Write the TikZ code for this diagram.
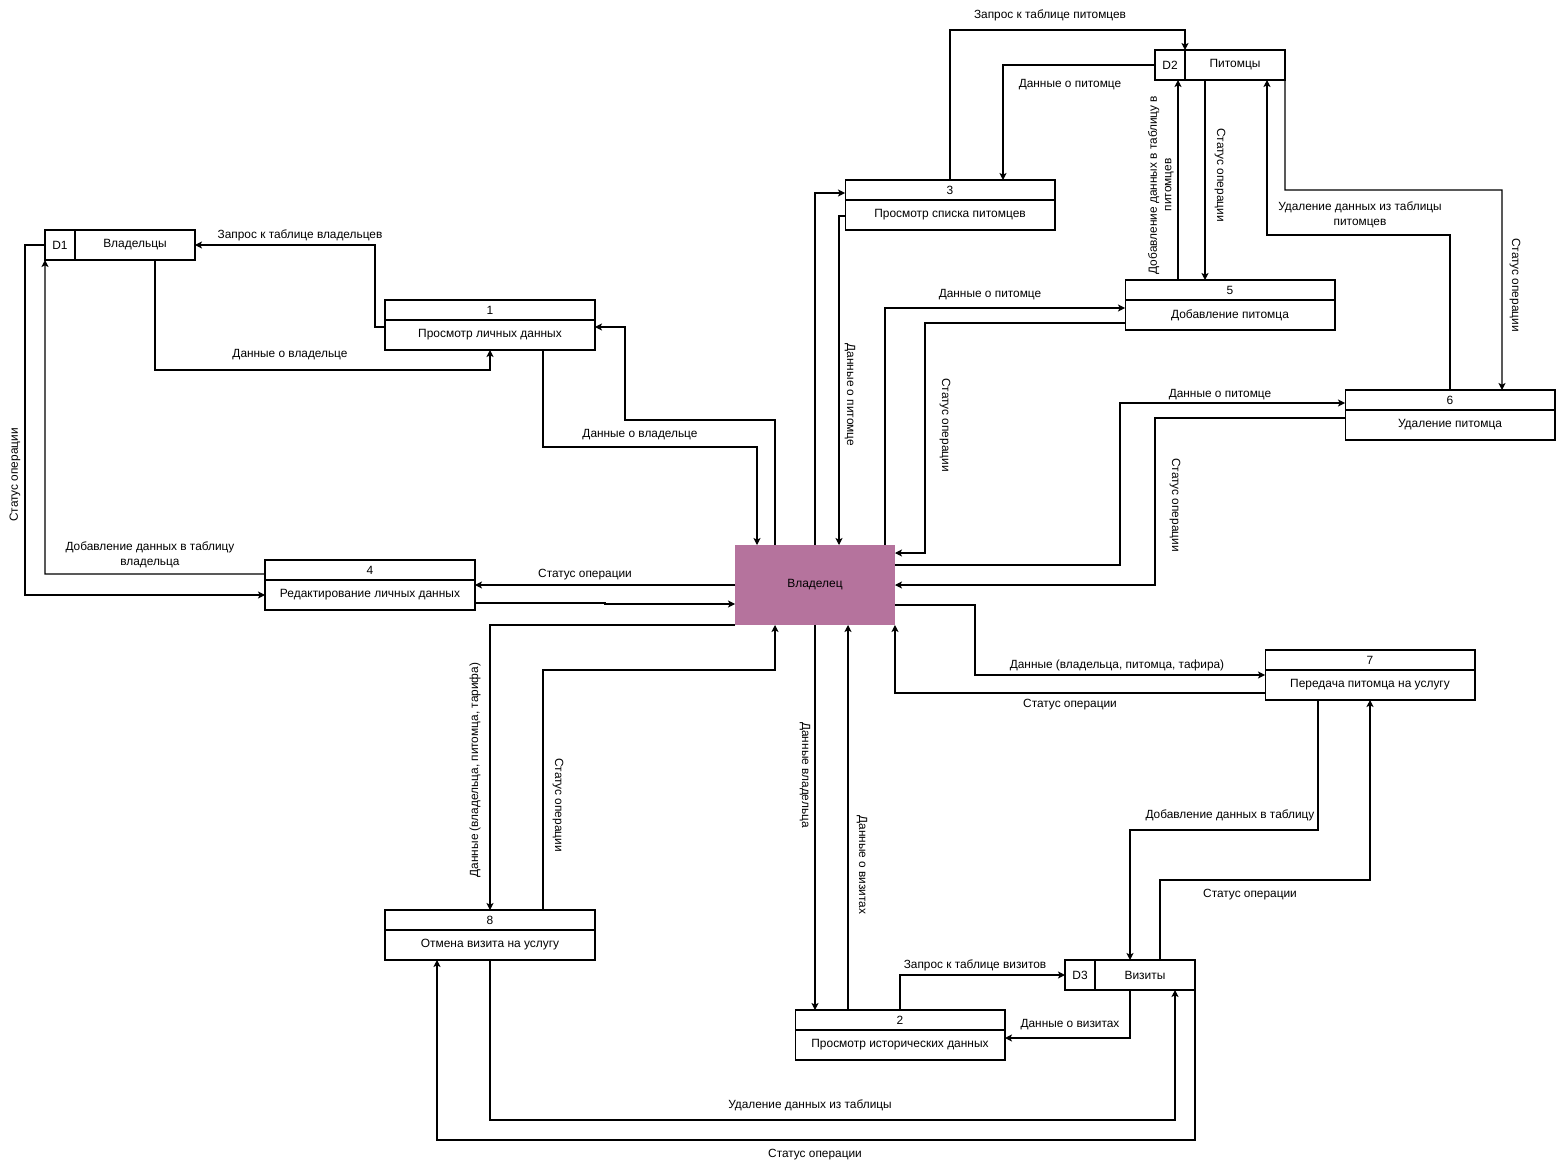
\documentclass[tikz,border=0pt]{standalone}
\usepackage{fontspec}
\setmainfont{Liberation Sans}
\usetikzlibrary{positioning,arrows.meta}
\definecolor{ownfill}{HTML}{B5739D}
\tikzset{
  box/.style={draw, inner sep=0pt, outer sep=0pt, line width=0.6pt, font=\fontsize{6.8}{8}\selectfont},
  procnum/.style={box, minimum width=4.2cm, minimum height=0.4cm},
  proc/.style={box, minimum width=4.2cm, minimum height=0.6cm},
  storeid/.style={box, minimum width=0.6cm, minimum height=0.6cm},
  store/.style={box, minimum height=0.6cm},
  entity/.style={fill=ownfill, inner sep=0pt, outer sep=0pt, minimum width=3.2cm, minimum height=1.6cm, font=\fontsize{6.8}{8}\selectfont},
  flow/.style={line width=0.6pt, -{Stealth[length=4pt,width=4pt,inset=1pt]}},
  lbl/.style={inner sep=0pt, font=\fontsize{6.75}{8.2}\selectfont, align=center},
}
\begin{document}
\begin{tikzpicture}[x=0.02cm, y=-0.02cm]
\useasboundingbox (0,0) rectangle (1556,1170);

% data stores
\node[storeid] (d1i) at (60,245) {D1};
\node[store, minimum width=2.4cm, right=0pt of d1i] (d1) {Владельцы};
\node[storeid] (d2i) at (1170,65) {D2};
\node[store, minimum width=2cm, right=0pt of d2i] (d2) {Питомцы};
\node[storeid] (d3i) at (1080,975) {D3};
\node[store, minimum width=2cm, right=0pt of d3i] (d3) {Визиты};

% external entity
\node[entity] (own) at (815,585) {Владелец};

% processes
\node[proc] (p1) at (490,335) {Просмотр личных данных};
\node[procnum, above=0pt of p1] (n1) {1};
\node[proc] (p2) at (900,1045) {Просмотр исторических данных};
\node[procnum, above=0pt of p2] (n2) {2};
\node[proc] (p3) at (950,215) {Просмотр списка питомцев};
\node[procnum, above=0pt of p3] (n3) {3};
\node[proc] (p4) at (370,595) {Редактирование личных данных};
\node[procnum, above=0pt of p4] (n4) {4};
\node[proc] (p5) at (1230,315) {Добавление питомца};
\node[procnum, above=0pt of p5] (n5) {5};
\node[proc] (p6) at (1450,425) {Удаление питомца};
\node[procnum, above=0pt of p6] (n6) {6};
\node[proc] (p7) at (1370,685) {Передача питомца на услугу};
\node[procnum, above=0pt of p7] (n7) {7};
\node[proc] (p8) at (490,945) {Отмена визита на услугу};
\node[procnum, above=0pt of p8] (n8) {8};

% owners table
\draw[flow] (p1.west |- 0,327) -| (375,245) -- (d1.east);
\node[lbl] (t1) at (300,235) {Запрос к таблице владельцев};
\draw[flow] (d1.south -| 155,0) -- (155,370) -| (p1.south);
\node[lbl] (t2) at (290,355) {Данные о владельце};
\draw[flow] (d1i.west) -- (25,245) |- (p4.west);
\node[lbl, rotate=90] (t3) at (15,475) {Статус операции};
\draw[flow] (n4.west |- 0,574) -- (45,574) -- (d1i.south west);
\node[lbl] (t4) at (150,555) {Добавление данных в таблицу\\владельца};
\draw[flow] (own.west) -- (p4.east |- 0,585);
\node[lbl] (t5) at (585,575) {Статус операции};
\draw[flow] (p4.east |- 0,603) -- (605,603) -- (605,604) -- (own.west |- 0,604);
\draw[flow] (own.north -| 775,0) |- (625,420) |- (p1.east |- 0,327);
\draw[flow] (p1.south -| 543,0) |- (757,447) -- (own.north -| 757,0);
\node[lbl] (t8) at (640,435) {Данные о владельце};

% pets table
\draw[flow] (own.north -| 815,0) |- (n3.west |- 0,193);
\draw[flow] (p3.west |- 0,216) -| (own.north -| 839,0);
\node[lbl, rotate=-90] (t10) at (850,395) {Данные о питомце};
\draw[flow] (n3.north) -- (950,30) -| (d2.north west);
\node[lbl] (t11) at (1050,15) {Запрос к таблице питомцев};
\draw[flow] (d2i.west) -| (n3.north -| 1003,0);
\node[lbl] (t12) at (1070,85) {Данные о питомце};
\draw[flow] (n5.north -| 1178,0) -- (d2i.south -| 1178,0);
\node[lbl, rotate=90] (t13) at (1161,185) {Добавление данных  в таблицу в\\питомцев};
\draw[flow] (d2.south -| 1205,0) -- (n5.north -| 1205,0);
\node[lbl, rotate=-90] (t14) at (1220,175) {Статус операции};
\draw[flow] (n6.north) -- (1450,235) -| (d2.south -| 1267,0);
\node[lbl] (t15) at (1360,215) {Удаление данных из таблицы\\питомцев};
\draw[flow] (d2.south east) -- (1285,190) -| (n6.north -| 1502,0);
\node[lbl, rotate=-90] (t16) at (1515,285) {Статус операции};
\draw[flow] (own.north -| 885,0) |- (p5.west |- 0,308);
\node[lbl] (t17) at (990,295) {Данные о питомце};
\draw[flow] (p5.west |- 0,323) -| (925,553) -- (own.east |- 0,553);
\node[lbl, rotate=-90] (t18) at (945,425) {Статус операции};
\draw[flow] (own.east |- 0,565) -- (1120,565) |- (n6.west |- 0,403);
\node[lbl] (t19) at (1220,395) {Данные о питомце};
\draw[flow] (p6.west |- 0,418) -| (1155,585) -- (own.east);
\node[lbl, rotate=-90] (t20) at (1175,505) {Статус операции};

% visits table
\draw[flow] (own.east |- 0,605) -| (975,675) -- (p7.west |- 0,675);
\node[lbl] (t21) at (1117,665) {Данные (владельца, питомца, тафира)};
\draw[flow] (p7.west |- 0,693) -| (own.south east);
\node[lbl] (t22) at (1070,705) {Статус операции};
\draw[flow] (p7.south -| 1318,0) |- (1130,830) -- (d3.north -| 1130,0);
\node[lbl] (t23) at (1230,815) {Добавление данных в таблицу};
\draw[flow] (d3.north -| 1160,0) |- (1370,880) -- (p7.south);
\node[lbl] (t24) at (1250,895) {Статус операции};
\draw[flow] (n2.north) |- (d3i.west);
\node[lbl] (t25) at (975,965) {Запрос к таблице визитов};
\draw[flow] (d3.south -| 1130,0) |- (p2.east |- 0,1038);
\node[lbl] (t26) at (1070,1025) {Данные о визитах};
\draw[flow] (own.south -| 815,0) -- (n2.north -| 815,0);
\node[lbl, rotate=-90] (t27) at (805,775) {Данные владельца};
\draw[flow] (n2.north -| 848,0) -- (own.south -| 848,0);
\node[lbl, rotate=-90] (t28) at (862,865) {Данные о визитах};
\draw[flow] (own.south west) -| (n8.north);
\node[lbl, rotate=90] (t29) at (475,770) {Данные (владельца, питомца, тарифа)};
\draw[flow] (n8.north -| 543,0) |- (775,670) -- (own.south -| 775,0);
\node[lbl, rotate=-90] (t30) at (558,805) {Статус операции};
\draw[flow] (p8.south) |- (1175,1120) -- (d3.south -| 1175,0);
\node[lbl] (t31) at (810,1105) {Удаление данных из таблицы};
\draw[flow] (d3.south east) |- (437,1140) -- (p8.south -| 437,0);
\node[lbl] (t32) at (815,1155) {Статус операции};

\end{tikzpicture}
\end{document}
